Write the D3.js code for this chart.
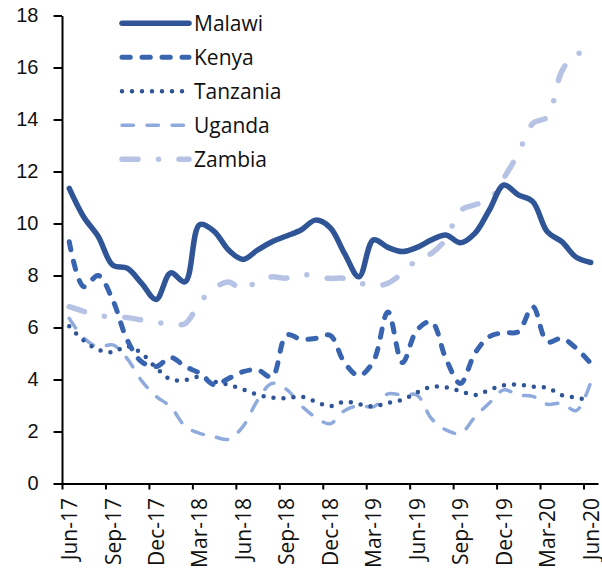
<!DOCTYPE html>
<html lang="en">
<head>
  <meta charset="UTF-8">
  <title>Inflation</title>
  <script src="https://d3js.org/d3.v7.min.js"></script>
  <style>
    body { margin: 0; background: #fff; }
    svg { display: block; font-family: "Open Sans", sans-serif; }
    .axis path, .axis line { stroke: #000; stroke-width: 2px; }
    .axis text { fill: #111; font-size: 20px; }
    .xlabels text { fill: #111; font-size: 21px; }
    .legend text { fill: #111; font-size: 21px; }
  </style>
</head>
<body>
  <svg id="chart" width="602" height="569"></svg>

  <script>
    // monthly, Jun-17 .. Jun-20
    const months = [
      "Jun-17","Jul-17","Aug-17","Sep-17","Oct-17","Nov-17","Dec-17","Jan-18","Feb-18","Mar-18","Apr-18","May-18",
      "Jun-18","Jul-18","Aug-18","Sep-18","Oct-18","Nov-18","Dec-18","Jan-19","Feb-19","Mar-19","Apr-19","May-19",
      "Jun-19","Jul-19","Aug-19","Sep-19","Oct-19","Nov-19","Dec-19","Jan-20","Feb-20","Mar-20","Apr-20","May-20","Jun-20"
    ];

    const malawi = [11.35, 10.25, 9.5, 8.4, 8.28, 7.7, 7.08, 8.1, 7.76, 9.95, 9.7, 8.98,
                    8.62, 8.98, 9.3, 9.52, 9.75, 10.13, 9.85, 8.85, 7.95, 9.37, 9.08, 8.92,
                    9.08, 9.37, 9.56, 9.26, 9.62, 10.52, 11.48, 11.1, 10.84, 9.68, 9.3, 8.7, 8.5];

    const kenya = [9.3, 7.57, 8.0, 7.06, 5.52, 4.68, 4.5, 4.85, 4.5, 4.24, 3.8, 4.04,
                   4.3, 4.37, 4.1, 5.71, 5.55, 5.58, 5.7, 4.65, 4.15, 4.7, 6.6, 4.65,
                   5.9, 6.22, 4.8, 3.85, 5.0, 5.65, 5.8, 5.84, 6.8, 5.45, 5.58, 5.2, 4.62];

    const tanzania = [6.05, 5.5, 5.15, 5.05, 5.28, 5.0, 4.45, 4.0, 3.98, 4.1, 3.92, 3.8,
                      3.62, 3.42, 3.3, 3.28, 3.34, 3.15, 2.97, 3.15, 3.05, 2.97, 3.1, 3.22,
                      3.5, 3.72, 3.7, 3.55, 3.4, 3.6, 3.78, 3.8, 3.72, 3.68, 3.4, 3.3, 3.2];

    const uganda = [6.35, 5.6, 5.25, 5.33, 4.8, 3.95, 3.35, 2.95, 2.2, 1.93, 1.8, 1.7,
                    2.2, 3.2, 3.85, 3.62, 3.0, 2.55, 2.3, 2.8, 3.0, 2.95, 3.45, 3.4,
                    3.4, 2.5, 2.06, 1.93, 2.55, 3.1, 3.6, 3.4, 3.35, 3.05, 3.08, 2.8, 3.9];

    const zambia = [6.8, 6.62, 6.45, 6.42, 6.38, 6.29, 6.2, 6.12, 6.15, 6.95, 7.5, 7.75,
                    7.45, 7.8, 7.95, 7.9, 8.05, 7.95, 7.89, 7.89, 7.72, 7.6, 7.7, 8.1,
                    8.6, 8.85, 9.4, 10.5, 10.72, 10.9, 11.75, 12.7, 13.85, 14.1, 15.85, 16.55, 16.3];

    const yTicks = [0, 2, 4, 6, 8, 10, 12, 14, 16, 18];

    const series = [
      { name: "Malawi",   values: malawi,   color: "#2f5597", width: 5.5, dash: null },
      { name: "Kenya",    values: kenya,    color: "#3864b0", width: 5,   dash: "8.3,11.7" },
      { name: "Tanzania", values: tanzania, color: "#2f5597", width: 4.5, dash: "0,10" },
      { name: "Uganda",   values: uganda,   color: "#8faadc", width: 3.5, dash: "11.5,13.5" },
      { name: "Zambia",   values: zambia,   color: "#b7c3e5", width: 5.5, dash: "16,20.5,0,20.5" }
    ];

    const svg = d3.select("#chart");
    const plotLeft = 62, plotRight = 598, plotTop = 15.5, plotBottom = 483.5;

    const x = d3.scaleBand().domain(months).range([plotLeft, plotRight]);
    const xEdge = d3.scaleLinear().domain([0, months.length]).range([plotLeft, plotRight]);
    const y = d3.scaleLinear().domain([0, 18]).range([plotBottom, plotTop]);

    // y axis
    svg.append("g")
      .attr("class", "axis")
      .attr("transform", `translate(${plotLeft},0)`)
      .call(d3.axisLeft(y).tickValues(yTicks).tickSize(8.5).tickSizeOuter(0).tickPadding(15));

    // x axis line + ticks on category boundaries
    svg.append("g")
      .attr("class", "axis")
      .attr("transform", `translate(0,${plotBottom})`)
      .call(d3.axisBottom(xEdge).tickValues(d3.range(0, months.length, 3)).tickSize(6).tickSizeOuter(0).tickFormat(""));

    // x labels, every third month, rotated
    svg.append("g")
      .attr("class", "xlabels")
      .selectAll("text")
      .data(months.filter((d, i) => i % 3 === 0))
      .join("text")
      .attr("transform", d => `translate(${x(d) + x.bandwidth() / 2 + 0.5},498) rotate(-90)`)
      .attr("text-anchor", "end")
      .attr("dy", "0.35em")
      .text(d => d);

    const line = d3.line()
      .x((d, i) => x(months[i]) + x.bandwidth() / 2)
      .y(d => y(d))
      .curve(d3.curveCatmullRom.alpha(0.5));

    // draw back to front
    series.slice().reverse().forEach(s => {
      svg.append("path")
        .datum(s.values)
        .attr("fill", "none")
        .attr("stroke", s.color)
        .attr("stroke-width", s.width)
        .attr("stroke-linecap", "round")
        .attr("stroke-linejoin", "round")
        .attr("stroke-dasharray", s.dash)
        .attr("d", line);
    });

    // legend
    const legend = svg.append("g").attr("class", "legend");
    series.forEach((s, i) => {
      const ly = 23.3 + i * 34;
      legend.append("line")
        .attr("x1", 122).attr("x2", 189)
        .attr("y1", ly).attr("y2", ly)
        .attr("stroke", s.color)
        .attr("stroke-width", s.width)
        .attr("stroke-linecap", "round")
        .attr("stroke-dasharray", s.dash);
      legend.append("text")
        .attr("x", 194)
        .attr("y", ly)
        .attr("dy", "0.35em")
        .text(s.name);
    });
  </script>
</body>
</html>
